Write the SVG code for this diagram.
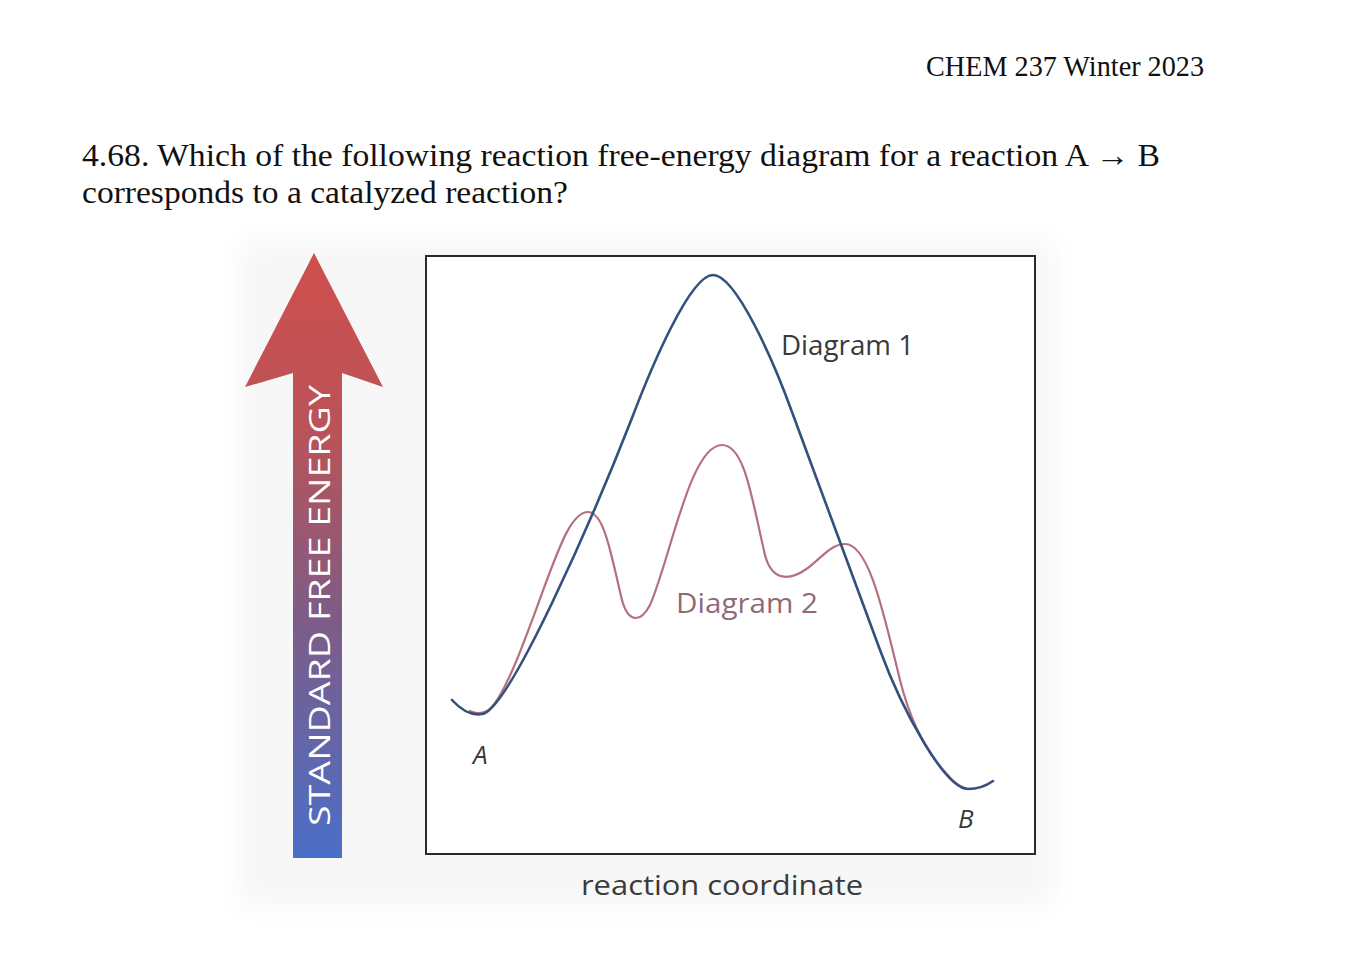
<svg xmlns="http://www.w3.org/2000/svg" width="1358" height="980" viewBox="0 0 1358 980">
  <defs>
    <linearGradient id="energyGrad" x1="0" y1="253" x2="0" y2="858" gradientUnits="userSpaceOnUse">
      <stop offset="0" stop-color="#cf4f4c"/>
      <stop offset="0.3" stop-color="#b95359"/>
      <stop offset="0.6" stop-color="#7e5c86"/>
      <stop offset="1" stop-color="#4a6fc8"/>
    </linearGradient>
    <filter id="soft" x="-10%" y="-10%" width="120%" height="120%">
      <feGaussianBlur stdDeviation="12"/>
    </filter>
    <style>
      .serif { font-family: "Liberation Serif", "Times New Roman", serif; fill: #111; }
      .sans { font-family: "Open Sans", "Noto Sans", "DejaVu Sans", sans-serif; }
      .curve { fill: none; stroke-width: 2.6; stroke-linecap: round; stroke-linejoin: round; }
      .d1 { stroke: #33507f; }
      .d2 { stroke: #b56f7e; stroke-width: 2.2; }
      .lbl { fill: #3a3a3a; font-size: 28px; }
    </style>
  </defs>

  <rect width="1358" height="980" fill="#ffffff"/>

  <g id="header">
    <text class="serif" x="926" y="76" font-size="29" textLength="278" lengthAdjust="spacingAndGlyphs">CHEM 237 Winter 2023</text>
    <text class="serif" x="82" y="166" font-size="32" textLength="1078" lengthAdjust="spacingAndGlyphs">4.68. Which of the following reaction free-energy diagram for a reaction A → B</text>
    <text class="serif" x="82" y="203" font-size="32" textLength="486" lengthAdjust="spacingAndGlyphs">corresponds to a catalyzed reaction?</text>
  </g>

  <g id="figure-background">
    <rect x="240" y="240" width="814" height="668" fill="#f7f7f7" filter="url(#soft)"/>
  </g>

  <g id="energy-axis">
    <polygon points="314,253 383,387 342,373 342,858 293,858 293,373 245,387" fill="url(#energyGrad)"/>
    <text class="sans" transform="translate(330,826) rotate(-90)" font-size="30" fill="#ffffff" textLength="441" lengthAdjust="spacingAndGlyphs">STANDARD FREE ENERGY</text>
  </g>

  <g id="plot-frame">
    <rect x="426" y="256" width="609" height="598" fill="#ffffff" stroke="#2a2a2a" stroke-width="2"/>
  </g>

  <g id="connectors">
    <path id="diagram2-curve" class="curve d2" d="M 470,711 C 476,714 481,714 487,711 C 503,702 525,640 545,585 C 560,545 572,512 588,512 C 605,512 612,560 622,600 C 628,622 640,624 650,605 C 670,560 690,445 722,445 C 745,445 752,500 765,555 C 772,582 790,580 805,570 C 820,560 830,544 845,544 C 870,544 885,620 900,680 C 910,720 925,750 945,772 C 953,782 960,788 968,789"/>
    <path id="diagram1-curve" class="curve d1" d="M 452,700 C 462,711 471,716 482,714 C 508,712 593,518 632,418 C 651,368 690,275 713,275 C 736,275 774,362 792,412 C 814,472 858,590 880,650 C 902,710 945,789 968,789 C 978,789 986,786 993,781"/>
  </g>

  <g id="label-diagram1">
    <text class="sans lbl" x="781" y="355" textLength="133" lengthAdjust="spacingAndGlyphs">Diagram 1</text>
  </g>
  <g id="label-diagram2">
    <text class="sans" x="676" y="613" font-size="28" fill="#8f6a75" textLength="142" lengthAdjust="spacingAndGlyphs">Diagram 2</text>
  </g>
  <g id="label-A">
    <text class="sans" x="473" y="764" font-size="26" font-style="italic" fill="#3a3a3a">A</text>
  </g>
  <g id="label-B">
    <text class="sans" x="958" y="828" font-size="26" font-style="italic" fill="#3a3a3a">B</text>
  </g>
  <g id="label-x-axis">
    <text class="sans" x="581" y="895" font-size="28" fill="#3a3a3a" textLength="282" lengthAdjust="spacingAndGlyphs">reaction coordinate</text>
  </g>
</svg>
